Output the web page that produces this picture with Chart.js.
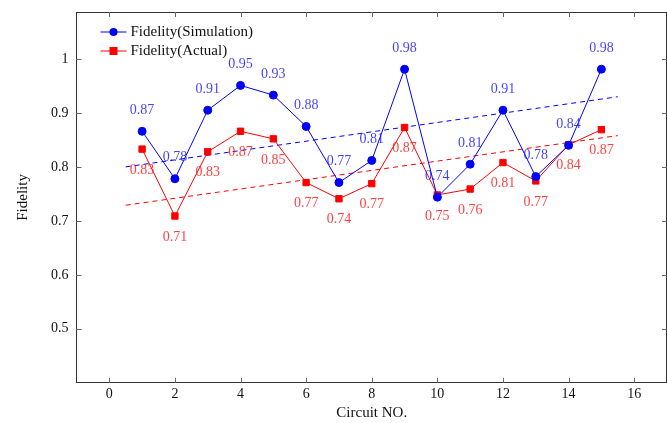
<!DOCTYPE html>
<html>
<head>
<meta charset="utf-8">
<script src="https://cdn.jsdelivr.net/npm/chart.js@4/dist/chart.umd.min.js"></script>
<style>
  html, body { margin: 0; padding: 0; background: #fff; }
  #wrap { width: 667px; height: 423px; }
</style>
</head>
<body>
<div id="wrap"><canvas id="fidelity"></canvas></div>
<script>
const circuits = [1, 2, 3, 4, 5, 6, 7, 8, 9, 10, 11, 12, 13, 14, 15];
const simFidelity = [0.866, 0.778, 0.905, 0.951, 0.933, 0.875, 0.771, 0.812, 0.981, 0.744, 0.805, 0.905, 0.782, 0.840, 0.981];
const simLabels = ['0.87', '0.78', '0.91', '0.95', '0.93', '0.88', '0.77', '0.81', '0.98', '0.74', '0.81', '0.91', '0.78', '0.84', '0.98'];
const actFidelity = [0.833, 0.709, 0.828, 0.866, 0.852, 0.771, 0.741, 0.769, 0.873, 0.748, 0.759, 0.808, 0.774, 0.841, 0.869];
const actLabels = ['0.83', '0.71', '0.83', '0.87', '0.85', '0.77', '0.74', '0.77', '0.87', '0.75', '0.76', '0.81', '0.77', '0.84', '0.87'];
const trendX = [0.5, 15.5];
const simTrendY = [0.800, 0.930];
const actTrendY = [0.729, 0.858];
const xTicks = [0, 2, 4, 6, 8, 10, 12, 14, 16];
const yTicks = [0.5, 0.6, 0.7, 0.8, 0.9, 1.0];

const SERIF = "'Liberation Serif', 'DejaVu Serif', serif";
const BLUE = 'rgb(0, 0, 255)';
const RED = 'rgb(255, 0, 0)';

const toPoints = (xs, ys) => xs.map((x, i) => ({ x: x, y: ys[i] }));

// labels near coordinates, legend inside the plot, box and inward tick marks
const decorations = {
    id: 'decorations',
    afterDatasetsDraw(chart) {
        const { ctx, chartArea: a, scales } = chart;
        ctx.save();

        // top and right sides of the box
        ctx.strokeStyle = '#333';
        ctx.lineWidth = 1;
        ctx.beginPath();
        ctx.moveTo(a.left, Math.round(a.top) + 0.5);
        ctx.lineTo(a.right, Math.round(a.top) + 0.5);
        ctx.moveTo(Math.round(a.right) - 0.5, a.top);
        ctx.lineTo(Math.round(a.right) - 0.5, a.bottom);
        ctx.stroke();

        // inward ticks on all four sides
        ctx.strokeStyle = '#666';
        xTicks.forEach((v) => {
            const px = Math.round(scales.x.getPixelForValue(v)) + 0.5;
            ctx.beginPath();
            ctx.moveTo(px, a.bottom); ctx.lineTo(px, a.bottom - 5);
            ctx.moveTo(px, a.top); ctx.lineTo(px, a.top + 5);
            ctx.stroke();
        });
        yTicks.forEach((v) => {
            const py = Math.round(scales.y.getPixelForValue(v)) + 0.5;
            ctx.beginPath();
            ctx.moveTo(a.left, py); ctx.lineTo(a.left + 5, py);
            ctx.moveTo(a.right, py); ctx.lineTo(a.right - 5, py);
            ctx.stroke();
        });

        // value labels
        ctx.font = `14px ${SERIF}`;
        ctx.textAlign = 'center';
        ctx.textBaseline = 'middle';
        chart.getDatasetMeta(0).data.forEach((pt, i) => {
            ctx.fillStyle = 'rgba(30, 30, 255, 0.85)';
            ctx.fillText(simLabels[i], pt.x, pt.y - 21);
        });
        chart.getDatasetMeta(1).data.forEach((pt, i) => {
            ctx.fillStyle = 'rgba(255, 30, 30, 0.85)';
            ctx.fillText(actLabels[i], pt.x, pt.y + 21);
        });

        // legend
        const items = [
            { text: 'Fidelity(Simulation)', color: BLUE, shape: 'circle' },
            { text: 'Fidelity(Actual)', color: RED, shape: 'square' },
        ];
        ctx.font = `15px ${SERIF}`;
        ctx.textAlign = 'left';
        items.forEach((it, i) => {
            const y = a.top + 20 + i * 19;
            const x0 = a.left + 24;
            ctx.strokeStyle = it.color;
            ctx.fillStyle = it.color;
            ctx.beginPath();
            ctx.moveTo(x0, y); ctx.lineTo(x0 + 26, y);
            ctx.stroke();
            if (it.shape === 'circle') {
                ctx.beginPath();
                ctx.arc(x0 + 13, y, 4, 0, Math.PI * 2);
                ctx.fill();
            } else {
                ctx.fillRect(x0 + 9, y - 4, 8, 8);
            }
            ctx.fillStyle = '#111';
            ctx.fillText(it.text, x0 + 30, y);
        });
        ctx.restore();
    },
};

new Chart(document.getElementById('fidelity'), {
    type: 'line',
    data: {
        datasets: [
            {
                label: 'Fidelity(Simulation)',
                data: toPoints(circuits, simFidelity),
                borderColor: BLUE,
                backgroundColor: BLUE,
                borderWidth: 1,
                pointStyle: 'circle',
                pointRadius: 4,
                pointHoverRadius: 4,
                tension: 0,
            },
            {
                label: 'Fidelity(Actual)',
                data: toPoints(circuits, actFidelity),
                borderColor: RED,
                backgroundColor: RED,
                borderWidth: 1,
                pointStyle: 'rect',
                pointRadius: 4.5,
                pointHoverRadius: 4.5,
                tension: 0,
            },
            {
                label: 'sim trend',
                data: toPoints(trendX, simTrendY),
                borderColor: BLUE,
                borderWidth: 1,
                borderDash: [5, 4],
                pointRadius: 0,
            },
            {
                label: 'act trend',
                data: toPoints(trendX, actTrendY),
                borderColor: RED,
                borderWidth: 1,
                borderDash: [5, 4],
                pointRadius: 0,
            },
        ],
    },
    options: {
        responsive: true,
        maintainAspectRatio: false,
        animation: false,
        layout: { autoPadding: false, padding: { top: 12, right: 0, left: 10, bottom: 2 } },
        plugins: {
            legend: { display: false },
            tooltip: { enabled: false },
        },
        scales: {
            x: {
                type: 'linear',
                min: -1,
                max: 17,
                afterBuildTicks: (axis) => { axis.ticks = xTicks.map((v) => ({ value: v })); },
                afterFit: (axis) => { axis.paddingLeft = 0; axis.paddingRight = 0; },
                grid: { drawOnChartArea: false, drawTicks: false },
                border: { display: true, color: '#333', width: 1 },
                ticks: { color: '#111', padding: 6, font: { family: SERIF, size: 14, lineHeight: 0.8 } },
                title: { display: true, text: 'Circuit NO.', color: '#111', padding: { top: 0, bottom: 0 }, font: { family: SERIF, size: 15, lineHeight: 1 } },
            },
            y: {
                min: 0.4,
                max: 1.087,
                afterBuildTicks: (axis) => { axis.ticks = yTicks.map((v) => ({ value: v })); },
                afterFit: (axis) => { axis.paddingTop = 0; axis.paddingBottom = 0; },
                grid: { drawOnChartArea: false, drawTicks: false },
                border: { display: true, color: '#333', width: 1 },
                ticks: {
                    color: '#111',
                    padding: 8,
                    font: { family: SERIF, size: 14 },
                    callback: (v) => (v === 1 ? '1' : v.toFixed(1)),
                },
                title: { display: true, text: 'Fidelity', color: '#111', padding: { bottom: 11 }, font: { family: SERIF, size: 15 } },
            },
        },
    },
    plugins: [decorations],
});
</script>
</body>
</html>
